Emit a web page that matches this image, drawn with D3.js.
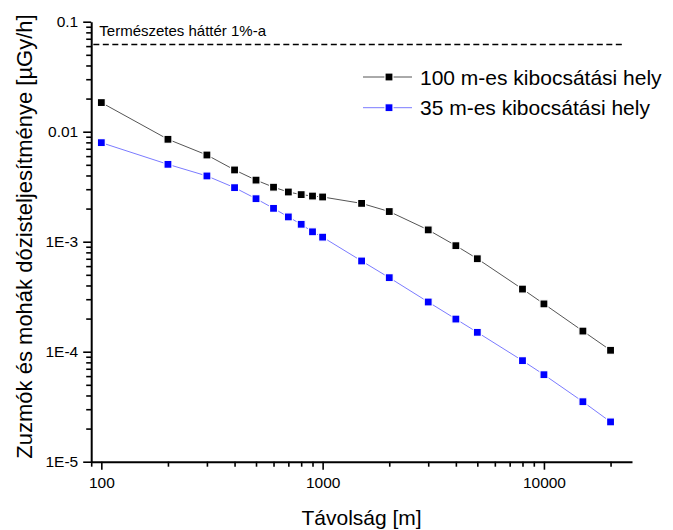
<!DOCTYPE html>
<html>
<head>
<meta charset="utf-8">
<script src="https://cdn.jsdelivr.net/npm/d3@7"></script>
<style>
  body { margin: 0; background: #fff; }
  text { font-family: Arial, "Liberation Sans", sans-serif; fill: #000; }
</style>
</head>
<body>
<div id="chart"></div>
<script>
// distances (m)
var distances = [100, 200, 300, 400, 500, 600, 700, 800, 900, 1000, 1500, 2000, 3000, 4000, 5000, 8000, 10000, 15000, 20000];

// dose rates for the two release heights (uGy/h)
var site100 = [0.0184, 0.00853, 0.00614, 0.00449, 0.00363, 0.00313, 0.00283, 0.00268, 0.0026, 0.00255,
  0.00223, 0.00188, 0.00128, 0.00092, 0.0007, 0.000371, 0.000272, 0.000154, 0.000103];
var site35 = [0.00795, 0.00505, 0.00396, 0.0031, 0.00246, 0.00201, 0.00168, 0.00144, 0.00123, 0.0011,
  0.000668, 0.000471, 0.000283, 0.000198, 0.00015, 0.0000829, 0.0000618, 0.0000351, 0.000023];

var seriesNames = ["100 m-es kibocsátási hely", "35 m-es kibocsátási hely"];
var seriesColors = ["#000000", "#0000ff"];
var lineColors = ["#555555", "#7b7bff"];

// natural background 1% level
var backgroundLevel = 0.062;
var backgroundSpan = [92, 22600];
var backgroundLabel = "Természetes háttér 1%-a";

var xMajorTicks = [100, 1000, 10000];
var xTickLabels = ["100", "1000", "10000"];
var yMajorTicks = [0.1, 0.01, 0.001, 0.0001, 0.00001];
var yTickLabels = ["0.1", "0.01", "1E-3", "1E-4", "1E-5"];

var xTitle = "Távolság [m]";
var yTitle = "Zuzmók és mohák dózisteljesítménye [µGy/h]";

var svgWidth = 673;
var svgHeight = 530;

var margin = { top: 21.7, right: 41, bottom: 68.3, left: 91.2 };
var width = svgWidth - margin.left - margin.right;
var height = svgHeight - margin.top - margin.bottom;

var svg = d3.select("#chart")
  .append("svg")
  .attr("width", svgWidth)
  .attr("height", svgHeight);

var chartGroup = svg.append("g")
  .attr("transform", `translate(${margin.left}, ${margin.top})`);

// scales
var x = d3.scaleLog().domain([90, 25000]).range([0, width]);
var y = d3.scaleLog().domain([0.00001, 0.1]).range([height, 0]);

// minor ticks (2..9 of each decade)
var xMinor = [90];
[100, 1000, 10000].forEach(function(d) {
  for (var k = 2; k <= 9; k++) {
    if (d * k <= 25000) xMinor.push(d * k);
  }
});
var yMinor = [];
[0.00001, 0.0001, 0.001, 0.01].forEach(function(d) {
  for (var k = 2; k <= 9; k++) yMinor.push(d * k);
});

// minor axes
chartGroup.append("g")
  .attr("transform", `translate(0, ${height})`)
  .call(d3.axisBottom(x).tickValues(xMinor).tickFormat("").tickSize(5).tickSizeOuter(0))
  .call(g => g.select(".domain").remove())
  .selectAll("line").attr("stroke-width", 1.6);

chartGroup.append("g")
  .call(d3.axisLeft(y).tickValues(yMinor).tickFormat("").tickSize(5).tickSizeOuter(0))
  .call(g => g.select(".domain").remove())
  .selectAll("line").attr("stroke-width", 1.6);

// major axes
var xAxis = chartGroup.append("g")
  .attr("transform", `translate(0, ${height})`)
  .call(d3.axisBottom(x).tickValues(xMajorTicks)
    .tickFormat((d, i) => xTickLabels[i]).tickSize(8).tickSizeOuter(0).tickPadding(7));

var yAxis = chartGroup.append("g")
  .call(d3.axisLeft(y).tickValues(yMajorTicks)
    .tickFormat((d, i) => yTickLabels[i]).tickSize(8).tickSizeOuter(0).tickPadding(5));

[xAxis, yAxis].forEach(function(ax) {
  ax.select(".domain").attr("stroke-width", 2);
  ax.selectAll("line").attr("stroke-width", 1.6);
  ax.selectAll("text")
    .attr("font-size", "15.5px")
    .attr("font-family", "Arial, 'Liberation Sans', sans-serif");
});

// background dashed line
chartGroup.append("line")
  .attr("x1", x(backgroundSpan[0]))
  .attr("x2", x(backgroundSpan[1]))
  .attr("y1", y(backgroundLevel))
  .attr("y2", y(backgroundLevel))
  .attr("stroke", "#000")
  .attr("stroke-width", 1.5)
  .attr("stroke-dasharray", "6,3.5");

chartGroup.append("text")
  .attr("x", x(backgroundSpan[0]) + 6)
  .attr("y", y(backgroundLevel) - 8.5)
  .attr("font-size", "15px")
  .text(backgroundLabel);

// series
var allSeries = [site100, site35];
var line = d3.line()
  .x((d, i) => x(distances[i]))
  .y(d => y(d));

allSeries.forEach(function(values, s) {
  chartGroup.append("path")
    .datum(values)
    .attr("fill", "none")
    .attr("stroke", lineColors[s])
    .attr("stroke-width", 1)
    .attr("d", line);

  chartGroup.selectAll(".pt" + s)
    .data(values)
    .enter()
    .append("rect")
    .attr("x", (d, i) => x(distances[i]) - 4)
    .attr("y", d => y(d) - 4)
    .attr("width", 8)
    .attr("height", 8)
    .attr("fill", seriesColors[s])
    .attr("stroke", "#fff")
    .attr("stroke-width", 1.2);
});

// legend
var legend = svg.append("g")
  .attr("transform", "translate(363, 77)");

seriesNames.forEach(function(name, s) {
  var row = legend.append("g").attr("transform", `translate(0, ${s * 30.7})`);
  row.append("line")
    .attr("x1", 0).attr("x2", 49)
    .attr("stroke", lineColors[s])
    .attr("stroke-width", 1);
  row.append("rect")
    .attr("x", 22).attr("y", -4)
    .attr("width", 8).attr("height", 8)
    .attr("fill", seriesColors[s])
    .attr("stroke", "#fff")
    .attr("stroke-width", 1.2);
  row.append("text")
    .attr("x", 57)
    .attr("y", 7.5)
    .attr("font-size", "21px")
    .text(name);
});

// axis titles
svg.append("text")
  .attr("x", margin.left + width / 2)
  .attr("y", 525)
  .attr("text-anchor", "middle")
  .attr("font-size", "21px")
  .text(xTitle);

svg.append("text")
  .attr("transform", "translate(31.5, 236.5) rotate(-90)")
  .attr("text-anchor", "middle")
  .attr("font-size", "22px")
  .text(yTitle);
</script>
</body>
</html>
